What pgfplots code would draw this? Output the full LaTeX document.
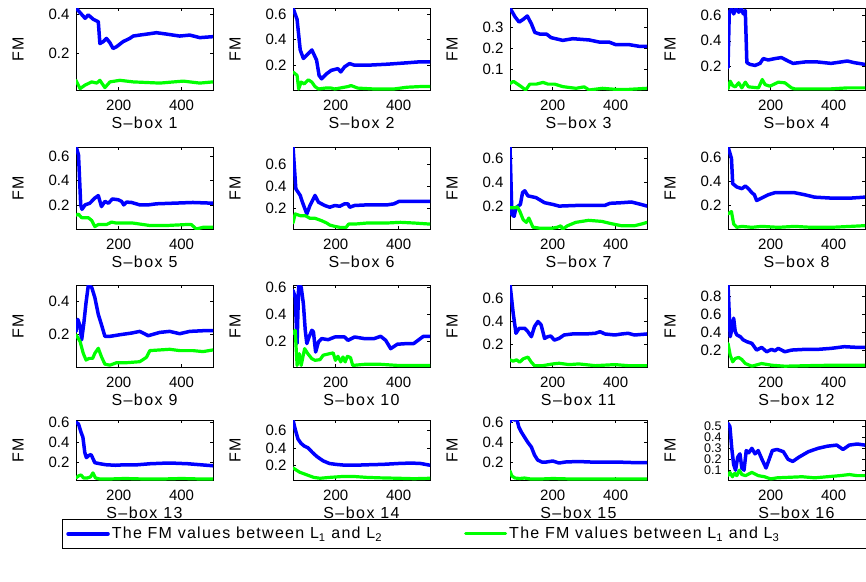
\documentclass[border=0pt]{standalone}
\usepackage{pgfplots}
\pgfplotsset{compat=1.18}
\usepackage{fontspec}
\setmainfont{Liberation Sans}
\newfontfamily\lblfont[LetterSpace=9]{Liberation Sans}
\newfontfamily\legfont[LetterSpace=8]{Liberation Sans}

\pgfplotsset{
  panel/.style={
    scale only axis, width=137pt, anchor=north west,
    xmin=64, xmax=500, xtick={200,400},
    tick align=inside, major tick length=3pt,
    axis line style={line width=0.6pt}, every tick/.style={black, line width=0.6pt},
    /pgf/number format/assume math mode=true,
    tick label style={font=\fontsize{15}{17}\selectfont},
    xticklabel style={yshift=-6pt},
    yticklabel style={xshift=-3pt, /pgf/number format/fixed, /pgf/number format/precision=1},
    label style={font=\lblfont\fontsize{16}{18}\selectfont},
    ylabel={FM},
    ylabel style={at={(axis description cs:0,0.5)}, anchor=center, yshift=58pt},
    xlabel style={at={(axis description cs:0.5,0)}, anchor=center, yshift=-33pt},
  },
  bl/.style={blue, line width=3.5pt, line join=round, line cap=round},
  gr/.style={green, line width=3.2pt, line join=round, line cap=round},
}

\newcommand{\panel}[9]{%
\begin{axis}[panel, at={(#1pt,-#2pt)}, height=#3pt, ymin=#4, ymax=#5, ytick={#6}, xlabel={S\textendash box #7}]
\addplot[bl] coordinates {#8};
\addplot[gr] coordinates {#9};
\end{axis}}

\begin{document}
\begin{tikzpicture}
\useasboundingbox (0,0) rectangle (866pt,-581pt);

% Row 1
\panel{76}{8}{82}{0.015}{0.43}{0.2,0.4}{1}
{(64,0.43)(75,0.41)(93,0.378)(103,0.395)(119,0.373)(135,0.36)(140,0.25)(151,0.26)(161,0.276)(172,0.254)(182,0.225)(193,0.234)(214,0.26)(235,0.276)(246,0.288)(267,0.293)(299,0.30)(320,0.305)(352,0.298)(394,0.288)(426,0.293)(458,0.28)(500,0.285)}
{(64,0.064)(77,0.022)(93,0.04)(114,0.056)(130,0.05)(140,0.064)(156,0.027)(172,0.056)(204,0.064)(246,0.056)(331,0.05)(405,0.06)(458,0.05)(500,0.056)}

\panel{293}{8}{82}{0.005}{0.65}{0.2,0.4,0.6}{2}
{(64,0.65)(77,0.56)(87,0.32)(97,0.253)(113,0.293)(124,0.32)(134,0.267)(139,0.24)(147,0.12)(155,0.093)(171,0.133)(186,0.16)(207,0.173)(216,0.147)(228,0.187)(244,0.213)(260,0.2)(301,0.2)(364,0.208)(427,0.219)(469,0.227)(500,0.227)}
{(64,0.147)(77,0.12)(82,0.013)(90,0.067)(100,0.053)(113,0.085)(124,0.067)(134,0.032)(145,0.013)(166,0.02)(186,0.02)(197,0.013)(239,0.032)(249,0.04)(270,0.02)(322,0.013)(385,0.013)(427,0.027)(469,0.032)(500,0.032)}

\panel{510}{8}{82}{0.0}{0.39}{0.1,0.2,0.3}{3}
{(64,0.39)(80,0.348)(93,0.323)(106,0.336)(119,0.352)(132,0.315)(143,0.274)(159,0.266)(180,0.266)(195,0.249)(232,0.236)(264,0.244)(316,0.238)(348,0.228)(379,0.228)(400,0.216)(442,0.216)(474,0.208)(500,0.208)}
{(64,0.031)(75,0.041)(96,0.02)(114,0.0)(127,0.028)(148,0.028)(169,0.036)(185,0.028)(206,0.028)(232,0.016)(274,0.008)(300,0.015)(316,0.0)(358,0.008)(400,0.003)(442,0.003)(500,0.008)}

\panel{728}{8}{82}{0.01}{0.66}{0.2,0.4,0.6}{4}
{(64,0.187)(68,0.627)(75,0.653)(82,0.613)(89,0.659)(98,0.627)(106,0.653)(113,0.613)(119,0.64)(124,0.227)(134,0.213)(150,0.205)(166,0.221)(176,0.259)(192,0.248)(213,0.259)(234,0.267)(255,0.24)(271,0.221)(308,0.232)(350,0.232)(392,0.221)(423,0.232)(444,0.24)(465,0.227)(500,0.213)}
{(64,0.019)(71,0.08)(79,0.045)(87,0.035)(98,0.067)(108,0.027)(119,0.072)(129,0.035)(161,0.027)(173,0.093)(182,0.053)(197,0.04)(224,0.072)(245,0.067)(266,0.027)(276,0.019)(329,0.019)(392,0.019)(444,0.027)(500,0.027)}

% Row 2
\panel{76}{147}{82}{0.0}{0.68}{0.2,0.4,0.6}{5}
{(64,0.686)(72,0.614)(79,0.2)(83,0.163)(93,0.2)(108,0.214)(124,0.257)(135,0.277)(145,0.186)(156,0.229)(167,0.214)(180,0.249)(198,0.243)(209,0.229)(216,0.2)(225,0.223)(241,0.22)(267,0.2)(294,0.2)(320,0.209)(373,0.214)(436,0.22)(500,0.214)}
{(64,0.114)(72,0.123)(82,0.094)(103,0.094)(114,0.071)(124,0.02)(135,0.037)(161,0.037)(177,0.057)(193,0.049)(246,0.049)(299,0.029)(352,0.029)(415,0.037)(431,0.037)(447,0.0)(468,0.014)(500,0.014)}

\panel{293}{147}{82}{0.01}{0.76}{0.2,0.4,0.6}{6}
{(64,0.763)(73,0.378)(87,0.317)(94,0.255)(108,0.148)(118,0.225)(134,0.317)(145,0.255)(165,0.225)(181,0.209)(197,0.225)(213,0.218)(228,0.24)(239,0.24)(244,0.209)(260,0.225)(301,0.231)(364,0.231)(385,0.24)(401,0.262)(448,0.262)(500,0.262)}
{(64,0.065)(71,0.148)(87,0.132)(103,0.132)(118,0.108)(134,0.108)(155,0.086)(171,0.065)(181,0.046)(197,0.034)(213,0.025)(233,0.025)(241,0.055)(260,0.055)(301,0.065)(364,0.065)(406,0.071)(448,0.065)(500,0.055)}

\panel{510}{147}{82}{0.01}{0.69}{0.2,0.4,0.6}{7}
{(64,0.693)(70,0.13)(77,0.115)(83,0.186)(90,0.2)(97,0.214)(104,0.313)(111,0.327)(121,0.285)(147,0.27)(174,0.228)(200,0.214)(220,0.2)(283,0.206)(366,0.206)(382,0.223)(419,0.228)(450,0.234)(481,0.214)(500,0.2)}
{(64,0.186)(80,0.186)(87,0.194)(95,0.158)(106,0.087)(116,0.065)(124,0.101)(137,0.025)(158,0.017)(200,0.017)(215,0.025)(226,0.037)(231,0.008)(247,0.037)(273,0.065)(314,0.082)(356,0.073)(387,0.054)(419,0.037)(460,0.037)(486,0.054)(500,0.065)}

\panel{728}{147}{82}{0.003}{0.69}{0.2,0.4,0.6}{8}
{(64,0.693)(75,0.594)(79,0.383)(92,0.355)(108,0.341)(119,0.363)(129,0.341)(140,0.307)(148,0.29)(155,0.242)(171,0.262)(192,0.29)(213,0.307)(245,0.307)(276,0.307)(308,0.29)(339,0.27)(392,0.262)(455,0.262)(500,0.27)}
{(64,0.13)(75,0.149)(82,0.045)(92,0.017)(108,0.025)(140,0.017)(171,0.025)(224,0.017)(276,0.025)(329,0.017)(392,0.017)(455,0.025)(500,0.031)}

% Row 3
\panel{76}{285}{82}{0.005}{0.5}{0.2,0.4}{9}
{(64,0.22)(70,0.292)(77,0.251)(82,0.169)(89,0.271)(96,0.394)(103,0.496)(114,0.486)(124,0.424)(135,0.322)(145,0.261)(156,0.19)(172,0.19)(204,0.2)(241,0.21)(267,0.22)(294,0.194)(331,0.214)(362,0.22)(394,0.206)(426,0.22)(468,0.224)(500,0.224)}
{(64,0.2)(77,0.159)(87,0.088)(96,0.047)(106,0.057)(117,0.057)(124,0.088)(135,0.118)(145,0.067)(156,0.022)(172,0.016)(193,0.031)(225,0.031)(267,0.037)(288,0.063)(299,0.104)(331,0.108)(362,0.112)(394,0.104)(436,0.104)(468,0.098)(500,0.108)}

\panel{293}{285}{82}{0.008}{0.62}{0.2,0.4,0.6}{10}
{(64,0.58)(71,0.531)(77,0.183)(82,0.618)(90,0.605)(97,0.481)(103,0.282)(108,0.183)(115,0.232)(124,0.282)(129,0.27)(136,0.12)(145,0.195)(155,0.22)(176,0.212)(197,0.232)(228,0.232)(239,0.207)(260,0.232)(291,0.22)(322,0.22)(343,0.237)(359,0.207)(375,0.145)(396,0.178)(427,0.183)(448,0.183)(479,0.237)(500,0.237)}
{(64,0.257)(71,0.282)(77,0.02)(84,0.108)(90,0.02)(101,0.145)(111,0.108)(124,0.07)(134,0.058)(150,0.063)(160,0.096)(181,0.108)(192,0.113)(199,0.058)(207,0.088)(216,0.046)(223,0.083)(230,0.046)(237,0.088)(247,0.078)(254,0.02)(291,0.028)(343,0.028)(396,0.02)(500,0.02)}

\panel{510}{285}{82}{0.0}{0.72}{0.2,0.4,0.6}{11}
{(64,0.728)(74,0.475)(83,0.296)(93,0.34)(111,0.34)(121,0.31)(132,0.266)(142,0.355)(153,0.4)(163,0.37)(174,0.251)(184,0.266)(194,0.272)(205,0.236)(220,0.251)(236,0.281)(262,0.29)(304,0.29)(335,0.296)(351,0.31)(366,0.29)(398,0.281)(419,0.29)(440,0.296)(460,0.281)(500,0.29)}
{(64,0.063)(74,0.051)(85,0.063)(95,0.042)(106,0.072)(121,0.087)(132,0.042)(142,0.012)(168,0.012)(200,0.027)(220,0.033)(252,0.021)(283,0.027)(335,0.012)(398,0.021)(440,0.012)(500,0.012)}

\panel{728}{285}{82}{0.01}{0.93}{0.2,0.4,0.6,0.8}{12}
{(64,0.936)(71,0.35)(77,0.445)(82,0.558)(87,0.408)(92,0.37)(103,0.35)(113,0.313)(124,0.294)(140,0.275)(155,0.2)(171,0.23)(187,0.181)(203,0.208)(213,0.192)(224,0.219)(245,0.181)(266,0.2)(308,0.208)(350,0.208)(392,0.219)(434,0.238)(476,0.23)(500,0.23)}
{(64,0.275)(71,0.143)(79,0.068)(87,0.106)(98,0.117)(108,0.094)(119,0.049)(140,0.019)(171,0.049)(203,0.03)(245,0.019)(329,0.026)(392,0.03)(500,0.03)}

% Row 4
\panel{76}{420}{60}{0.03}{0.62}{0.2,0.4,0.6}{13}
{(64,0.6)(72,0.58)(80,0.5)(86,0.45)(92,0.3)(97,0.25)(104,0.27)(112,0.28)(118,0.24)(124,0.2)(140,0.19)(160,0.18)(190,0.175)(220,0.18)(260,0.18)(300,0.19)(340,0.195)(380,0.195)(420,0.19)(460,0.18)(500,0.17)}
{(64,0.05)(72,0.07)(80,0.08)(88,0.05)(100,0.05)(110,0.06)(118,0.1)(126,0.05)(140,0.04)(170,0.04)(220,0.045)(280,0.04)(340,0.04)(400,0.045)(460,0.04)(500,0.04)}

\panel{293}{420}{60}{0.03}{0.72}{0.2,0.4,0.6}{14}
{(64,0.72)(72,0.6)(80,0.5)(90,0.45)(100,0.42)(112,0.4)(125,0.35)(140,0.3)(160,0.25)(180,0.22)(200,0.21)(230,0.2)(260,0.2)(300,0.205)(350,0.21)(400,0.22)(440,0.225)(470,0.22)(500,0.2)}
{(64,0.17)(72,0.15)(85,0.12)(100,0.1)(115,0.08)(130,0.06)(150,0.05)(180,0.06)(220,0.07)(260,0.07)(300,0.06)(340,0.055)(400,0.05)(450,0.045)(500,0.05)}

\panel{510}{420}{60}{0.02}{0.62}{0.2,0.4,0.6}{15}
{(64,0.6)(70,0.65)(78,0.62)(85,0.64)(92,0.55)(100,0.5)(110,0.45)(120,0.4)(132,0.35)(142,0.27)(152,0.22)(165,0.2)(180,0.2)(200,0.21)(220,0.19)(240,0.2)(280,0.205)(320,0.2)(360,0.2)(400,0.2)(450,0.195)(500,0.195)}
{(64,0.11)(70,0.06)(80,0.04)(95,0.035)(110,0.04)(130,0.03)(160,0.03)(200,0.035)(260,0.03)(320,0.03)(380,0.03)(440,0.03)(500,0.03)}

\begin{axis}[panel, at={(728pt,-420pt)}, height=60pt, ymin=0.01, ymax=0.56, ytick={0.1,0.2,0.3,0.4,0.5},
  yticklabel style={font=\fontsize{12.5}{13}\selectfont, inner ysep=0pt}, xlabel={S\textendash box 16}]
\addplot[bl] coordinates {(64,0.53)(70,0.5)(76,0.3)(82,0.15)(88,0.1)(95,0.22)(102,0.25)(108,0.12)(115,0.1)(122,0.28)(130,0.26)(140,0.3)(150,0.25)(160,0.28)(172,0.2)(185,0.12)(195,0.2)(205,0.28)(220,0.29)(240,0.27)(255,0.2)(270,0.18)(290,0.22)(320,0.27)(350,0.3)(380,0.32)(410,0.33)(430,0.29)(450,0.33)(475,0.34)(500,0.33)};
\addplot[gr] coordinates {(64,0.05)(70,0.08)(78,0.04)(85,0.07)(92,0.05)(100,0.1)(108,0.06)(120,0.05)(140,0.08)(160,0.05)(180,0.04)(200,0.02)(220,0.03)(260,0.035)(300,0.04)(340,0.03)(380,0.04)(420,0.05)(450,0.06)(475,0.05)(500,0.05)};
\end{axis}

% Legend
\begin{axis}[at={(62pt,-519pt)}, anchor=north west, scale only axis, width=10pt, height=10pt,
  hide axis, xmin=0, xmax=1, ymin=0, ymax=1,
  legend columns=2,
  legend style={at={(0,1)}, anchor=north west, draw=black, line width=0.6pt,
    font=\legfont\fontsize{16}{18}\selectfont, inner xsep=4pt, inner ysep=6pt,
    /tikz/every even column/.append style={column sep=80pt}},
  legend image code/.code={\draw[#1] (0pt,0pt) -- (40pt,0pt);}]
\addlegendimage{bl}
\addlegendentry{The FM values between L\textsubscript{1} and L\textsubscript{2}}
\addlegendimage{gr}
\addlegendentry{The FM values between L\textsubscript{1} and L\textsubscript{3}\hspace*{90pt}\mbox{}}
\end{axis}
\end{tikzpicture}
\end{document}
